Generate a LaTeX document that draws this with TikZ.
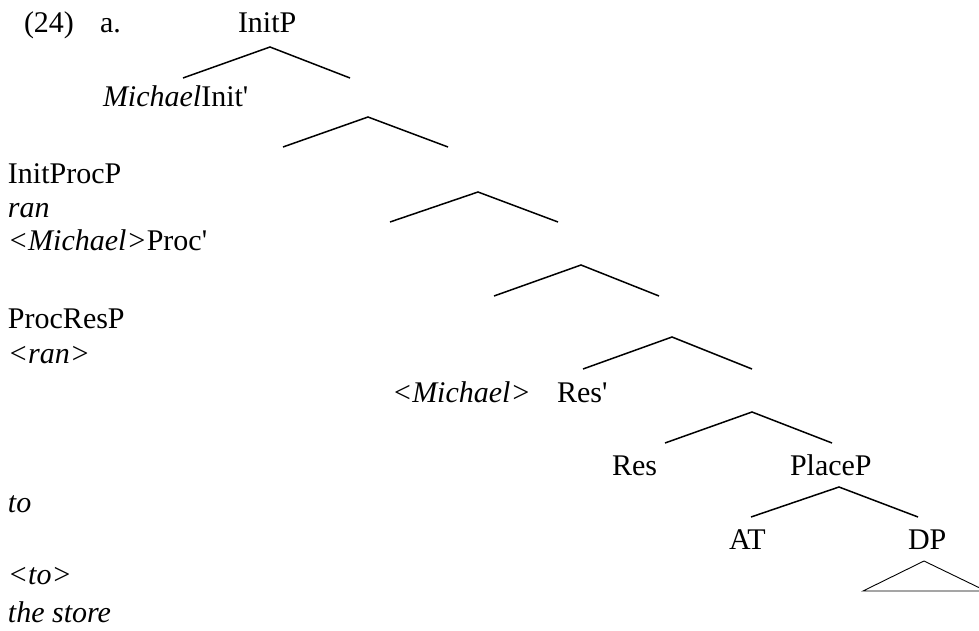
\documentclass[tikz,border=0pt]{standalone}
\usepackage{fontspec}
\setmainfont{Liberation Serif}
\usepackage{tikz}

\tikzset{
    lbl/.style={anchor=base west,inner sep=0pt,outer sep=0pt},
    branch/.style={line width=1.5pt},
    roof/.style={line width=0.9pt}
}
\newcommand{\pr}{\textquotesingle}

\begin{document}
\begin{tikzpicture}[x=1pt,y=-1pt,font=\fontsize{30}{34}\selectfont]
    \useasboundingbox (0,0) rectangle (979,631);

    % labels
    \node[lbl] (num) at (24,33) {(24)};
    \node[lbl] (sub) at (100,33) {a.};
    \node[lbl] (initp) at (238,33) {InitP};
    \node[lbl] (initbar) at (103,107) {\textit{Michael}Init\pr};
    \node[lbl] (initprocp) at (8,183) {InitProcP};
    \node[lbl] (ran) at (8,217) {\textit{ran}};
    \node[lbl] (procbar) at (8,250) {\textit{<Michael>}Proc\pr};
    \node[lbl] (procresp) at (8,328) {ProcResP};
    \node[lbl] (rantrace) at (8,363) {\textit{<ran>}};
    \node[lbl] (michtrace) at (392,402) {\textit{<Michael>}};
    \node[lbl] (resbar) at (557,402) {Res\pr};
    \node[lbl] (res) at (612,475) {Res};
    \node[lbl] (placep) at (790,475) {PlaceP};
    \node[lbl] (to) at (8,512) {\textit{to}};
    \node[lbl] (at) at (729,549) {AT};
    \node[lbl] (dp) at (908,549) {DP};
    \node[lbl] (totrace) at (8,584) {\textit{<to>}};
    \node[lbl] (store) at (8,622) {\textit{the store}};

    % branch points
    \coordinate (b1l) at (183,78);  \coordinate (b1t) at (270,47);  \coordinate (b1r) at (350,78);
    \coordinate (b2l) at (283,147); \coordinate (b2t) at (368,117); \coordinate (b2r) at (448,147);
    \coordinate (b3l) at (390,222); \coordinate (b3t) at (478,192); \coordinate (b3r) at (558,222);
    \coordinate (b4l) at (494,296); \coordinate (b4t) at (581,265); \coordinate (b4r) at (659,296);
    \coordinate (b5l) at (583,369); \coordinate (b5t) at (672,337); \coordinate (b5r) at (752,369);
    \coordinate (b6l) at (665,443); \coordinate (b6t) at (752,412); \coordinate (b6r) at (832,443);
    \coordinate (b7l) at (751,517); \coordinate (b7t) at (839,487); \coordinate (b7r) at (918,517);

    \draw[branch] (b1l) -- (b1t) -- (b1r);
    \draw[branch] (b2l) -- (b2t) -- (b2r);
    \draw[branch] (b3l) -- (b3t) -- (b3r);
    \draw[branch] (b4l) -- (b4t) -- (b4r);
    \draw[branch] (b5l) -- (b5t) -- (b5r);
    \draw[branch] (b6l) -- (b6t) -- (b6r);
    \draw[branch] (b7l) -- (b7t) -- (b7r);

    % roof over the DP
    \coordinate (rooft) at (924,561);
    \coordinate (roofl) at (863,591);
    \coordinate (roofr) at (986,591);
    \draw[roof] (rooft) -- (roofl) -- (roofr) -- cycle;
\end{tikzpicture}
\end{document}
